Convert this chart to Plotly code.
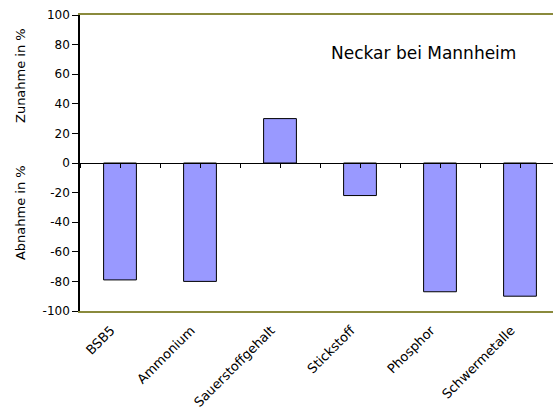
import plotly.graph_objects as go

# Veränderung der Gewässergüte, Neckar bei Mannheim
kategorien = ["BSB5", "Ammonium", "Sauerstoffgehalt", "Stickstoff", "Phosphor", "Schwermetalle"]
veraenderung = [-79, -80, 30, -22, -87, -90]
y_ticks = [100, 80, 60, 40, 20, 0, -20, -40, -60, -80, -100]

W, H = 553, 414
m_l, m_r, m_t, m_b = 80, 0, 15, 103
px_per_cat = 80
x_max = -0.5 + (W - m_l - m_r) / px_per_cat

FAM = "DejaVu Sans, Verdana, sans-serif"

fig = go.Figure()
fig.add_trace(go.Bar(
    x=list(range(len(kategorien))),
    y=veraenderung,
    width=0.41,
    marker=dict(color="#9999FF", line=dict(color="black", width=1)),
    xaxis="x", yaxis="y",
    showlegend=False,
))
# unsichtbare Spur für die Null-Achse mit Teilstrichen
fig.add_trace(go.Scatter(x=[0], y=[0], mode="markers", marker=dict(opacity=0),
                         xaxis="x2", yaxis="y", showlegend=False, hoverinfo="skip"))

fig.update_layout(
    width=W, height=H,
    margin=dict(l=m_l, r=m_r, t=m_t, b=m_b),
    paper_bgcolor="white", plot_bgcolor="white",
    font=dict(family=FAM, size=12, color="black"),
    xaxis=dict(
        range=[-0.5, x_max],
        tickmode="array", tickvals=list(range(len(kategorien))), ticktext=kategorien,
        tickangle=-45, ticks="", showgrid=False, zeroline=False,
        ticklabelshift=-9, ticklabelstandoff=5,
        showline=True, linecolor="#8a8a3c", linewidth=1.5, mirror=True,
        tickfont=dict(family=FAM, size=13, color="black"),
    ),
    xaxis2=dict(
        range=[-0.5, x_max], overlaying="x", anchor="free", position=0.5,
        tickmode="linear", tick0=-0.5, dtick=0.5,
        ticks="outside", ticklen=4, tickcolor="black", tickwidth=1,
        showticklabels=False, showgrid=False, zeroline=False,
        showline=True, linecolor="black", linewidth=1,
    ),
    yaxis=dict(
        range=[-100, 100], tickmode="array", tickvals=y_ticks,
        ticktext=[str(v) for v in y_ticks],
        ticks="outside", ticklen=6, tickcolor="black",
        tickfont=dict(family=FAM, size=12, color="black"),
        showgrid=False, zeroline=False,
        showline=True, linecolor="black", linewidth=1.5,
    ),
    annotations=[
        dict(text="Neckar bei Mannheim", x=0.727, y=0.872, xref="paper", yref="paper",
             xanchor="center", yanchor="middle", showarrow=False,
             font=dict(family=FAM, size=17)),
        dict(text="Zunahme in %", x=-0.127, y=0.797, xref="paper", yref="paper",
             xanchor="center", yanchor="middle", textangle=-90, showarrow=False,
             font=dict(family=FAM, size=13)),
        dict(text="Abnahme in %", x=-0.127, y=0.334, xref="paper", yref="paper",
             xanchor="center", yanchor="middle", textangle=-90, showarrow=False,
             font=dict(family=FAM, size=13)),
    ],
)

fig.write_html("out.html")
